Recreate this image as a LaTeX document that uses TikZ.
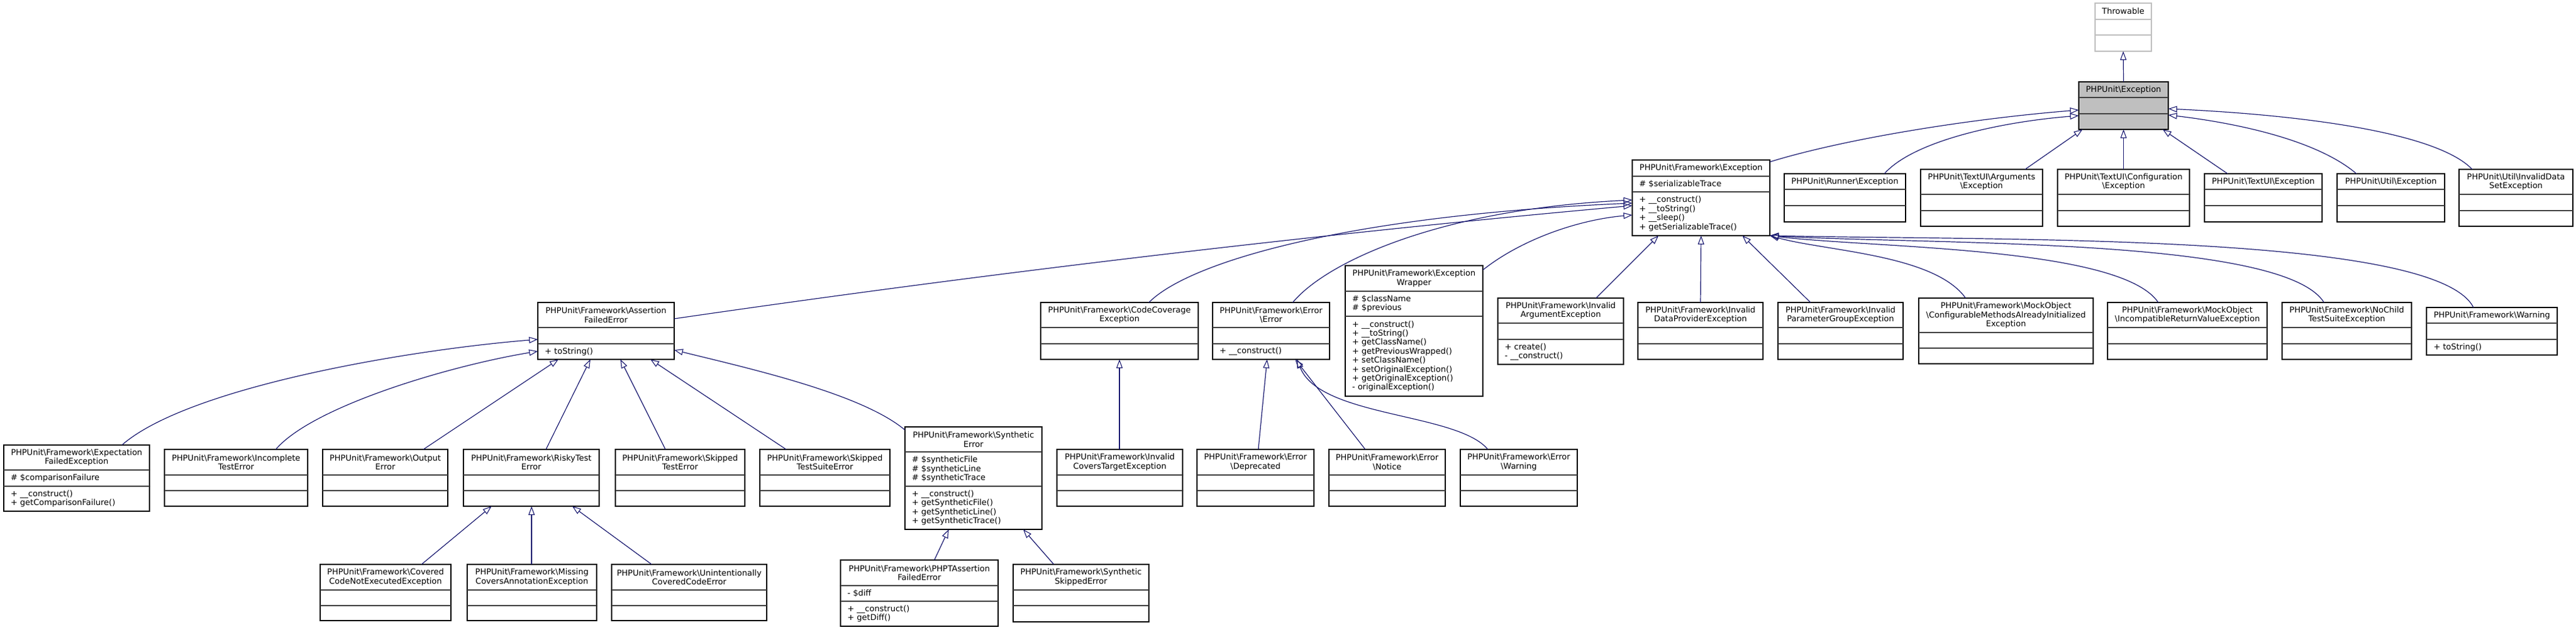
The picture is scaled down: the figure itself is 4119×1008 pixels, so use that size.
\documentclass[tikz,border=0pt]{standalone}
\usepackage{fontspec}
\setmainfont{DejaVu Sans}
\usetikzlibrary{arrows.meta,calc}
\definecolor{edgec}{HTML}{191970}
\definecolor{sepc}{HTML}{404040}
\definecolor{grayfill}{HTML}{BFBFBF}
\newcommand\bsl{\textbackslash}
\tikzset{
 umlbox/.style={draw=black, line width=1.3pt, rectangle, inner sep=0pt, outer sep=0pt, fill=white},
 sepline/.style={draw=sepc, line width=1.4pt},
 lightsep/.style={draw=grayfill, line width=1.4pt},
 ttl/.style={align=center, inner sep=0pt, font=\fontsize{13}{14.4}\selectfont},
 mem/.style={align=left, anchor=west, inner sep=0pt, font=\fontsize{13}{14.4}\selectfont},
 inh/.style={draw=edgec, line width=1.2pt, -{Triangle[open, length=14pt, width=10pt, line width=1.1pt]}},
}
% name, box style, sep style, x1, x2, y1, s1, s2, y2
\newcommand\ubox[9]{%
 \node[umlbox,#2,minimum width={(#5)-(#4)}, minimum height={(#9)-(#6)}] (#1) at ({((#4)+(#5))/2},{((#6)+(#9))/2}) {};
 \draw[#3] (#4,#7) -- (#5,#7);
 \draw[#3] (#4,#8) -- (#5,#8);
 \coordinate (#1-t) at ({((#4)+(#5))/2},{((#6)+(#7))/2});
 \coordinate (#1-a) at ({(#4)+11},{((#7)+(#8))/2});
 \coordinate (#1-m) at ({(#4)+11},{((#8)+(#9))/2});
}
\begin{document}
\begin{tikzpicture}[x=1pt,y=-1pt]
\useasboundingbox (0,0) rectangle (4119,1008);
% ---------- boxes ----------
\ubox{TH}{draw=grayfill}{lightsep}{3350}{3440}{5}{31}{56}{82}
\ubox{PE}{fill=grayfill}{sepline}{3324}{3467}{131}{156}{182}{207}
\ubox{FE}{}{sepline}{2610}{2830}{256}{282}{307}{377}
\ubox{RU}{}{sepline}{2853}{3047}{278}{303}{329}{355}
\ubox{AR}{}{sepline}{3071}{3266}{271}{311}{337}{362}
\ubox{CO}{}{sepline}{3290}{3501}{271}{311}{337}{362}
\ubox{TU}{}{sepline}{3525}{3713}{278}{303}{329}{355}
\ubox{UE}{}{sepline}{3737}{3909}{278}{303}{329}{355}
\ubox{ID}{}{sepline}{3932}{4114}{271}{311}{337}{362}
\ubox{AFE}{}{sepline}{860}{1078}{484}{524}{550}{575}
\ubox{CC}{}{sepline}{1664}{1916}{484}{524}{550}{575}
\ubox{EE}{}{sepline}{1939}{2126}{484}{524}{550}{575}
\ubox{EW}{}{sepline}{2151}{2371}{425}{466}{506}{634}
\ubox{IA}{}{sepline}{2395}{2596}{477}{517}{543}{583}
\ubox{DP}{}{sepline}{2619}{2819}{484}{524}{550}{575}
\ubox{PG}{}{sepline}{2843}{3043}{484}{524}{550}{575}
\ubox{CM}{}{sepline}{3068}{3347}{477}{532}{557}{582}
\ubox{IR}{}{sepline}{3370}{3625}{484}{524}{550}{575}
\ubox{NC}{}{sepline}{3649}{3856}{484}{524}{550}{575}
\ubox{WA}{}{sepline}{3880}{4089}{492}{517}{543}{568}
\ubox{EX}{}{sepline}{6}{239}{712}{752}{778}{818}
\ubox{IN}{}{sepline}{263}{492}{719}{760}{785}{810}
\ubox{OU}{}{sepline}{516}{716}{719}{760}{785}{810}
\ubox{RT}{}{sepline}{741}{958}{719}{760}{785}{810}
\ubox{ST}{}{sepline}{984}{1191}{719}{760}{785}{810}
\ubox{SS}{}{sepline}{1215}{1423}{719}{760}{785}{810}
\ubox{SY}{}{sepline}{1447}{1666}{683}{723}{778}{847}
\ubox{IC}{}{sepline}{1690}{1891}{719}{760}{785}{810}
\ubox{DE}{}{sepline}{1914}{2101}{719}{760}{785}{810}
\ubox{NO}{}{sepline}{2125}{2311}{719}{760}{785}{810}
\ubox{WR}{}{sepline}{2335}{2522}{719}{760}{785}{810}
\ubox{CV}{}{sepline}{512}{721}{903}{944}{969}{993}
\ubox{MI}{}{sepline}{747}{954}{903}{944}{969}{993}
\ubox{UN}{}{sepline}{978}{1226}{903}{944}{969}{993}
\ubox{PT}{}{sepline}{1344}{1596}{896}{937}{962}{1002}
\ubox{SK}{}{sepline}{1620}{1837}{903}{944}{969}{995}
% ---------- titles ----------
\node[ttl] (TH-tt) at (TH-t) {Throwable};
\node[ttl] (PE-tt) at (PE-t) {PHPUnit\bsl Exception};
\node[ttl] (FE-tt) at (FE-t) {PHPUnit\bsl Framework\bsl Exception};
\node[ttl] (RU-tt) at (RU-t) {PHPUnit\bsl Runner\bsl Exception};
\node[ttl] (AR-tt) at (AR-t) {PHPUnit\bsl TextUI\bsl Arguments\\\bsl Exception};
\node[ttl] (CO-tt) at (CO-t) {PHPUnit\bsl TextUI\bsl Configuration\\\bsl Exception};
\node[ttl] (TU-tt) at (TU-t) {PHPUnit\bsl TextUI\bsl Exception};
\node[ttl] (UE-tt) at (UE-t) {PHPUnit\bsl Util\bsl Exception};
\node[ttl] (ID-tt) at (ID-t) {PHPUnit\bsl Util\bsl InvalidData\\SetException};
\node[ttl] (AFE-tt) at (AFE-t) {PHPUnit\bsl Framework\bsl Assertion\\FailedError};
\node[ttl] (CC-tt) at (CC-t) {PHPUnit\bsl Framework\bsl CodeCoverage\\Exception};
\node[ttl] (EE-tt) at (EE-t) {PHPUnit\bsl Framework\bsl Error\\\bsl Error};
\node[ttl] (EW-tt) at (EW-t) {PHPUnit\bsl Framework\bsl Exception\\Wrapper};
\node[ttl] (IA-tt) at (IA-t) {PHPUnit\bsl Framework\bsl Invalid\\ArgumentException};
\node[ttl] (DP-tt) at (DP-t) {PHPUnit\bsl Framework\bsl Invalid\\DataProviderException};
\node[ttl] (PG-tt) at (PG-t) {PHPUnit\bsl Framework\bsl Invalid\\ParameterGroupException};
\node[ttl] (CM-tt) at (CM-t) {PHPUnit\bsl Framework\bsl MockObject\\\bsl ConfigurableMethodsAlreadyInitialized\\Exception};
\node[ttl] (IR-tt) at (IR-t) {PHPUnit\bsl Framework\bsl MockObject\\\bsl IncompatibleReturnValueException};
\node[ttl] (NC-tt) at (NC-t) {PHPUnit\bsl Framework\bsl NoChild\\TestSuiteException};
\node[ttl] (WA-tt) at (WA-t) {PHPUnit\bsl Framework\bsl Warning};
\node[ttl] (EX-tt) at (EX-t) {PHPUnit\bsl Framework\bsl Expectation\\FailedException};
\node[ttl] (IN-tt) at (IN-t) {PHPUnit\bsl Framework\bsl Incomplete\\TestError};
\node[ttl] (OU-tt) at (OU-t) {PHPUnit\bsl Framework\bsl Output\\Error};
\node[ttl] (RT-tt) at (RT-t) {PHPUnit\bsl Framework\bsl RiskyTest\\Error};
\node[ttl] (ST-tt) at (ST-t) {PHPUnit\bsl Framework\bsl Skipped\\TestError};
\node[ttl] (SS-tt) at (SS-t) {PHPUnit\bsl Framework\bsl Skipped\\TestSuiteError};
\node[ttl] (SY-tt) at (SY-t) {PHPUnit\bsl Framework\bsl Synthetic\\Error};
\node[ttl] (IC-tt) at (IC-t) {PHPUnit\bsl Framework\bsl Invalid\\CoversTargetException};
\node[ttl] (DE-tt) at (DE-t) {PHPUnit\bsl Framework\bsl Error\\\bsl Deprecated};
\node[ttl] (NO-tt) at (NO-t) {PHPUnit\bsl Framework\bsl Error\\\bsl Notice};
\node[ttl] (WR-tt) at (WR-t) {PHPUnit\bsl Framework\bsl Error\\\bsl Warning};
\node[ttl] (CV-tt) at (CV-t) {PHPUnit\bsl Framework\bsl Covered\\CodeNotExecutedException};
\node[ttl] (MI-tt) at (MI-t) {PHPUnit\bsl Framework\bsl Missing\\CoversAnnotationException};
\node[ttl] (UN-tt) at (UN-t) {PHPUnit\bsl Framework\bsl Unintentionally\\CoveredCodeError};
\node[ttl] (PT-tt) at (PT-t) {PHPUnit\bsl Framework\bsl PHPTAssertion\\FailedError};
\node[ttl] (SK-tt) at (SK-t) {PHPUnit\bsl Framework\bsl Synthetic\\SkippedError};
% ---------- members ----------
\node[mem] (FE-aa) at (FE-a) {\# \$serializableTrace};
\node[mem] (FE-mm) at (FE-m) {+ \_\_construct()\\+ \_\_toString()\\+ \_\_sleep()\\+ getSerializableTrace()};
\node[mem] (AFE-mm) at (AFE-m) {+ toString()};
\node[mem] (EE-mm) at (EE-m) {+ \_\_construct()};
\node[mem] (EW-aa) at (EW-a) {\# \$className\\\# \$previous};
\node[mem] (EW-mm) at (EW-m) {+ \_\_construct()\\+ \_\_toString()\\+ getClassName()\\+ getPreviousWrapped()\\+ setClassName()\\+ setOriginalException()\\+ getOriginalException()\\- originalException()};
\node[mem] (IA-mm) at (IA-m) {+ create()\\- \_\_construct()};
\node[mem] (WA-mm) at (WA-m) {+ toString()};
\node[mem] (EX-aa) at (EX-a) {\# \$comparisonFailure};
\node[mem] (EX-mm) at (EX-m) {+ \_\_construct()\\+ getComparisonFailure()};
\node[mem] (SY-aa) at (SY-a) {\# \$syntheticFile\\\# \$syntheticLine\\\# \$syntheticTrace};
\node[mem] (SY-mm) at (SY-m) {+ \_\_construct()\\+ getSyntheticFile()\\+ getSyntheticLine()\\+ getSyntheticTrace()};
\node[mem] (PT-aa) at (PT-a) {- \$diff};
\node[mem] (PT-mm) at (PT-m) {+ \_\_construct()\\+ getDiff()};
% ---------- inheritance edges ----------
\draw[inh] (PE.north) -- (TH.south);
\draw[inh] ($(FE.north east)+(0,3)$) .. controls +(120,-37) and +(-174,14) .. ($(PE.north west)+(0,45)$);
\draw[inh] ($(RU.north west)+(160,0)$) .. controls +(47,-53) and +(-124,10) .. ($(PE.north west)+(0,54)$);
\draw[inh] ($(AR.north west)+(167,0)$) -- ($(PE.south west)+(6,0)$);
\draw[inh] (CO.north) -- (PE.south);
\draw[inh] ($(TU.north west)+(37,0)$) -- ($(PE.south east)+(-9,0)$);
\draw[inh] ($(UE.north west)+(31,0)$) .. controls +(-68,-58) and +(93,11) .. ($(PE.north east)+(0,53)$);
\draw[inh] ($(ID.north west)+(21,0)$) .. controls +(-53,-56) and +(233,11) .. ($(PE.north east)+(0,43)$);
% into Framework\Exception
\draw[inh] ($(AFE.north east)+(0,26)$) .. controls +(500,-73) and +(-500,45) .. ($(FE.north west)+(0,73)$);
\draw[inh] ($(CC.north west)+(173,0)$) .. controls +(63,-64) and +(-460,20) .. ($(FE.north west)+(0,69)$);
\draw[inh] ($(EE.north west)+(128,0)$) .. controls +(53,-64) and +(-310,15) .. ($(FE.north west)+(0,64)$);
\draw[inh] ($(EW.north east)+(0,7)$) .. controls +(59,-47) and +(-90,8) .. ($(FE.north west)+(0,88)$);
\draw[inh] ($(IA.north west)+(157,0)$) -- ($(FE.south west)+(42,0)$);
\draw[inh] (DP.north) -- (FE.south);
\draw[inh] ($(PG.north west)+(52,0)$) -- ($(FE.south west)+(176,0)$);
\draw[inh] ($(CM.north west)+(75,0)$) .. controls +(-50,-70) and +(90,25) .. (FE.south east);
\draw[inh] ($(IR.north west)+(81,0)$) .. controls +(-60,-90) and +(160,20) .. (FE.south east);
\draw[inh] ($(NC.north west)+(67,0)$) .. controls +(-65,-105) and +(260,15) .. (FE.south east);
\draw[inh] ($(WA.north west)+(75,0)$) .. controls +(-60,-120) and +(360,8) .. (FE.south east);
% into AssertionFailedError
\draw[inh] ($(EX.north west)+(189,0)$) .. controls +(105,-92) and +(-210,17) .. ($(AFE.north west)+(0,59)$);
\draw[inh] ($(IN.north west)+(178,0)$) .. controls +(59,-69) and +(-140,23) .. ($(AFE.north west)+(0,78)$);
\draw[inh] ($(OU.north west)+(161,0)$) -- ($(AFE.south west)+(33,0)$);
\draw[inh] ($(RT.north west)+(132,0)$) -- ($(AFE.south west)+(84,0)$);
\draw[inh] ($(ST.north west)+(80,0)$) -- ($(AFE.south west)+(132,0)$);
\draw[inh] ($(SS.north west)+(42,0)$) -- ($(AFE.south west)+(180,0)$);
\draw[inh] ($(SY.north west)+(0,5)$) .. controls +(-69,-58) and +(122,30) .. ($(AFE.north east)+(0,76)$);
% others
\draw[inh] ($(IC.north west)+(100,0)$) -- ($(CC.south west)+(126,0)$);
\draw[inh] ($(DE.north west)+(98,0)$) -- ($(EE.south west)+(87,0)$);
\draw[inh] ($(NO.north west)+(58,0)$) -- ($(EE.south west)+(132,0)$);
\draw[inh] ($(WR.north west)+(44,0)$) .. controls +(-49,-59) and +(36,93) .. ($(EE.south west)+(135,0)$);
\draw[inh] ($(CV.north west)+(162,0)$) -- ($(RT.south west)+(45,0)$);
\draw[inh] ($(MI.north west)+(103,0)$) -- ($(RT.south west)+(109,0)$);
\draw[inh] ($(UN.north west)+(64,0)$) -- ($(RT.south west)+(174,0)$);
\draw[inh] ($(PT.north west)+(150,0)$) -- ($(SY.south west)+(70,0)$);
\draw[inh] ($(SK.north west)+(65,0)$) -- ($(SY.south west)+(189,0)$);
\end{tikzpicture}
\end{document}
